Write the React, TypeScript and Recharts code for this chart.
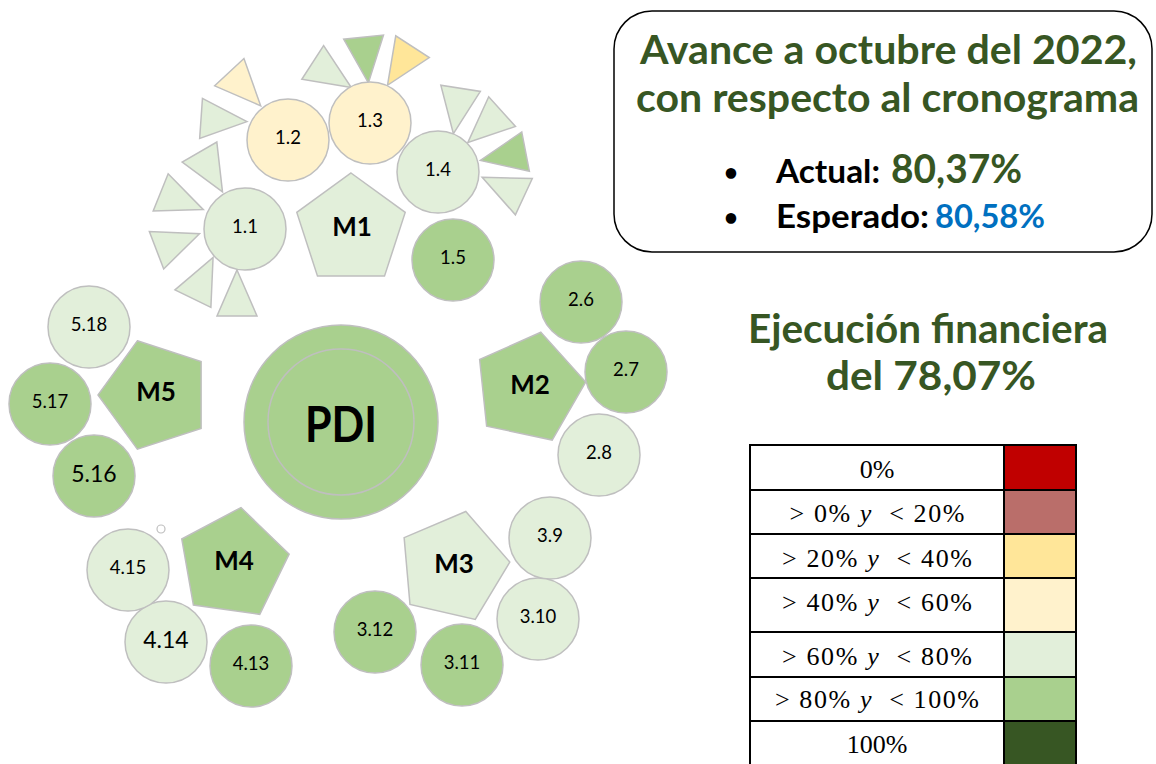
import React from 'react';
import { ScatterChart, Scatter, XAxis, YAxis } from 'recharts';

const W = 1156;
const H = 764;

// ---------- legend categories ----------
const levelLabels = ['0%', '> 0% y < 20%', '> 20% y < 40%', '> 40% y < 60%', '> 60% y < 80%', '> 80% y < 100%', '100%'];
const levelColors = ['#C00000', '#BA6E6A', '#FFE699', '#FFF2CC', '#E2EFDA', '#A9D08E', '#375623'];

// ---------- hub ----------
const hubLabel = 'PDI';
const hubX = 341;
const hubY = 422;
const hubLevel = 5;

// ---------- modules (pentagons) ----------
const moduleLabels = ['M1', 'M2', 'M3', 'M4', 'M5'];
const moduleX = [351, 529, 453, 233, 155];
const moduleY = [230, 388, 567, 564, 395];
const moduleLevel = [4, 5, 4, 5, 5];
const moduleTilt = [0, 12, 13, 8, -18];

// ---------- goals (circles) ----------
const goalLabels = ['1.1', '1.2', '1.3', '1.4', '1.5', '2.6', '2.7', '2.8', '3.9', '3.10', '3.11', '3.12', '4.13', '4.14', '4.15', '5.16', '5.17', '5.18'];
const goalX = [245, 288, 370, 438, 453, 581, 626, 599, 550, 538, 462, 375, 251, 166, 128, 94, 50, 89];
const goalY = [229, 140, 123, 172, 260, 302, 372, 455, 538, 619, 665, 632, 666, 642, 570, 476, 404, 327];
const goalLevel = [4, 3, 3, 4, 5, 5, 5, 4, 4, 4, 5, 5, 5, 4, 4, 5, 5, 4];

// ---------- activities (triangles) ----------
const actX = [332, 366, 400, 245, 224, 211, 182, 178, 203, 237, 457, 485, 503, 503];
const actY = [75, 60, 66, 89, 120, 172, 201, 242, 278, 293, 111, 127, 156, 187];
const actHeading = [33, 84, 123, 47, 4, 60, 22, -21, -64, -90, 99, 138, 169, 205];
const actLevel = [4, 5, 2, 3, 4, 4, 4, 4, 4, 4, 4, 4, 5, 4];

// ---------- small marker ----------
const markerX = [161];
const markerY = [529];

// ---------- summary texts ----------
const titleLines = ['Avance a octubre del 2022,', 'con respecto al cronograma'];
const actualLabel = 'Actual:';
const actualValue = '80,37%';
const expectedLabel = 'Esperado:';
const expectedValue = '80,58%';
const financeLines = ['Ejecución financiera', 'del 78,07%'];

const STROKE = '#BFBFBF';
const GREEN = '#375623';
const SANS = "Lato, 'Open Sans', sans-serif";
const SERIF = "'Liberation Serif', 'DejaVu Serif', serif";
const bigGoalLabels = ['4.14', '5.16'];

const hubData = [{ x: hubX, y: hubY, label: hubLabel, level: hubLevel }];
const moduleData = moduleLabels.map((label, i) => ({ x: moduleX[i], y: moduleY[i], label, level: moduleLevel[i], tilt: moduleTilt[i] }));
const goalData = goalLabels.map((label, i) => ({ x: goalX[i], y: goalY[i], label, level: goalLevel[i] }));
const actData = actX.map((x, i) => ({ x, y: actY[i], heading: actHeading[i], level: actLevel[i] }));
const markerData = markerX.map((x, i) => ({ x, y: markerY[i] }));

const HubShape = (props: any) => {
  const { cx, cy, payload } = props;
  return (
    <g>
      <circle cx={cx} cy={cy} r={97} fill={levelColors[payload.level]} stroke={STROKE} strokeWidth={1.5} />
      <circle cx={cx} cy={cy} r={73} fill="none" stroke={STROKE} strokeWidth={1.5} />
      <text x={cx} y={cy + 20} textAnchor="middle" fontFamily={SANS} fontWeight={700} fontSize={50} fill="#000"
        textLength={72} lengthAdjust="spacingAndGlyphs">{payload.label}</text>
    </g>
  );
};

const PentagonShape = (props: any) => {
  const { cx, cy, payload } = props;
  const R = 57;
  const pts = [0, 1, 2, 3, 4]
    .map((k) => {
      const a = ((-90 + payload.tilt + 72 * k) * Math.PI) / 180;
      return `${cx + R * Math.cos(a)},${cy + R * Math.sin(a)}`;
    })
    .join(' ');
  return (
    <g>
      <polygon points={pts} fill={levelColors[payload.level]} stroke={STROKE} strokeWidth={1.5} />
      <text x={cx + 1} y={cy + 6} textAnchor="middle" fontFamily={SANS} fontWeight={700} fontSize={26} fill="#000">{payload.label}</text>
    </g>
  );
};

const GoalShape = (props: any) => {
  const { cx, cy, payload } = props;
  const big = bigGoalLabels.includes(payload.label);
  return (
    <g>
      <circle cx={cx} cy={cy} r={41} fill={levelColors[payload.level]} stroke={STROKE} strokeWidth={1.5} />
      <text x={cx} y={cy + (big ? 6 : 4)} textAnchor="middle" fontFamily={SANS} fontSize={big ? 23 : 18.5} fill="#000">{payload.label}</text>
    </g>
  );
};

const TriangleShape = (props: any) => {
  const { cx, cy, payload } = props;
  const a = (payload.heading * Math.PI) / 180;
  const h = 46;
  const b = 40;
  const ux = Math.cos(a);
  const uy = Math.sin(a);
  const px = -uy;
  const py = ux;
  const apex = [cx + (ux * h) / 2, cy + (uy * h) / 2];
  const bx = cx - (ux * h) / 2;
  const by = cy - (uy * h) / 2;
  const b1 = [bx + (px * b) / 2, by + (py * b) / 2];
  const b2 = [bx - (px * b) / 2, by - (py * b) / 2];
  const pts = [apex, b1, b2].map((p) => p.join(',')).join(' ');
  return <polygon points={pts} fill={levelColors[payload.level]} stroke={STROKE} strokeWidth={1.5} />;
};

const MarkerShape = (props: any) => {
  const { cx, cy } = props;
  return <circle cx={cx} cy={cy} r={4} fill="#fff" stroke={STROKE} strokeWidth={1.2} />;
};

// legend table geometry
const rowEdges = [445, 490, 534, 578, 632, 677, 721, 790];
const rowBaselines = [478, 522, 567, 611, 665, 708, 753];
const rowTextWidths = [0, 175, 190, 190, 190, 204, 0];

const LegendLabel = ({ text, y, width }: { text: string; y: number; width: number }) => {
  const parts = text.split(' y ');
  const common: any = { x: 877, y, textAnchor: 'middle', fontFamily: SERIF, fontSize: 26, fill: '#000' };
  if (parts.length === 1) return <text {...common}>{text}</text>;
  return (
    <text {...common} textLength={width} lengthAdjust="spacing" style={{ whiteSpace: 'pre' }}>
      {parts[0] + ' '}
      <tspan fontStyle="italic">y</tspan>
      {'  ' + parts[1]}
    </text>
  );
};

export default function App() {
  return (
    <div style={{ position: 'absolute', left: 0, top: 0, width: W, height: H, background: '#fff', overflow: 'hidden' }}>
      <ScatterChart width={W} height={H} margin={{ top: 0, right: 0, bottom: 0, left: 0 }}>
        <XAxis type="number" dataKey="x" domain={[0, W]} hide />
        <YAxis type="number" dataKey="y" domain={[0, H]} reversed hide />
        <Scatter data={actData} shape={TriangleShape} isAnimationActive={false} />
        <Scatter data={hubData} shape={HubShape} isAnimationActive={false} />
        <Scatter data={moduleData} shape={PentagonShape} isAnimationActive={false} />
        <Scatter data={goalData} shape={GoalShape} isAnimationActive={false} />
        <Scatter data={markerData} shape={MarkerShape} isAnimationActive={false} />
      </ScatterChart>
      <svg width={W} height={H} style={{ position: 'absolute', left: 0, top: 0, pointerEvents: 'none' }}>
        <rect x={614} y={11} width={538} height={241} rx={38} ry={38} fill="none" stroke="#000" strokeWidth={1.5} />
        <text x={640} y={64} fontFamily={SANS} fontWeight={700} fontSize={41} fill={GREEN} textLength={497} lengthAdjust="spacingAndGlyphs">{titleLines[0]}</text>
        <text x={636} y={112} fontFamily={SANS} fontWeight={700} fontSize={41} fill={GREEN} textLength={503} lengthAdjust="spacingAndGlyphs">{titleLines[1]}</text>
        <text x={731} y={181} textAnchor="middle" fontFamily={SANS} fontWeight={700} fontSize={24} fill="#000">•</text>
        <text x={776} y={183} fontFamily={SANS} fontWeight={700} fontSize={32} fill="#000" textLength={104} lengthAdjust="spacingAndGlyphs">{actualLabel}</text>
        <text x={891} y={183} fontFamily={SANS} fontWeight={700} fontSize={41} fill={GREEN} textLength={131} lengthAdjust="spacingAndGlyphs">{actualValue}</text>
        <text x={731} y={226} textAnchor="middle" fontFamily={SANS} fontWeight={700} fontSize={24} fill="#000">•</text>
        <text x={776} y={228} fontFamily={SANS} fontWeight={700} fontSize={32} fill="#000" textLength={153} lengthAdjust="spacingAndGlyphs">{expectedLabel}</text>
        <text x={935} y={228} fontFamily={SANS} fontWeight={700} fontSize={32} fill="#0070C0" textLength={110} lengthAdjust="spacingAndGlyphs">{expectedValue}</text>
        <text x={748} y={343} fontFamily={SANS} fontWeight={700} fontSize={41} fill={GREEN} textLength={360} lengthAdjust="spacingAndGlyphs">{financeLines[0]}</text>
        <text x={826} y={390} fontFamily={SANS} fontWeight={700} fontSize={41} fill={GREEN} textLength={210} lengthAdjust="spacingAndGlyphs">{financeLines[1]}</text>
        {levelLabels.map((lab, i) => (
          <g key={lab}>
            <rect x={750} y={rowEdges[i]} width={254} height={rowEdges[i + 1] - rowEdges[i]} fill="#fff" stroke="#000" strokeWidth={2} />
            <rect x={1004} y={rowEdges[i]} width={72} height={rowEdges[i + 1] - rowEdges[i]} fill={levelColors[i]} stroke="#000" strokeWidth={2} />
            <LegendLabel text={lab} y={rowBaselines[i]} width={rowTextWidths[i]} />
          </g>
        ))}
      </svg>
    </div>
  );
}
